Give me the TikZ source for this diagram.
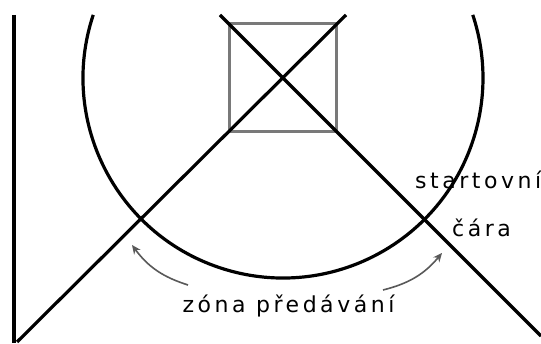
\documentclass[tikz,border=0pt]{standalone}
\usepackage{fontspec}
\newfontfamily\lblfont[LetterSpace=16]{DejaVu Sans}
\usetikzlibrary{arrows.meta,calc}
\begin{document}
\begin{tikzpicture}[x=1pt,y=1pt,
  thick line/.style={line width=3.2pt,black},
  box line/.style={line width=3pt,gray!95!black},
  arr/.style={line width=1.6pt,gray!70!black,-{Stealth[length=9pt,width=8pt]}},
  lbl/.style={inner sep=0pt,font=\lblfont\fontsize{22}{24}\selectfont}]
\useasboundingbox (0,0) rectangle (541,344);
\fill[white] (0,0) rectangle (541,344);
% key points
\coordinate (C) at (283,266);
\coordinate (sqA) at (229,320);
\coordinate (sqB) at (336,212);
\coordinate (l1a) at (220,329);
\coordinate (l1b) at (541,8);
\coordinate (l2a) at (346,329);
\coordinate (l2b) at (17,2);
\coordinate (va) at (14,329);
\coordinate (vb) at (14,1);
\coordinate (arcStart) at ($(C)+(161.6:200)$);
% square
\draw[box line] (sqA) rectangle (sqB);
% circle arc
\draw[thick line] (arcStart) arc[start angle=161.6,end angle=378.4,radius=200];
% crossing lines
\draw[thick line] (l1a) -- (l1b);
\draw[thick line] (l2a) -- (l2b);
\draw[thick line] (va) -- (vb);
% labels
\node[lbl,anchor=base] (zona) at (288.5,31) {zóna předávání};
\node[lbl,anchor=base west] (start) at (415,155) {startovní};
\node[lbl,anchor=base west] (cara) at (452,107) {čára};
% arrows
\coordinate (lt) at (188,59);
\coordinate (lh) at (132,99);
\coordinate (rt) at (383,54);
\coordinate (rh) at (442,91);
\draw[arr] (lt) to[bend left=18] (lh);
\draw[arr] (rt) to[bend right=18] (rh);
\end{tikzpicture}
\end{document}
